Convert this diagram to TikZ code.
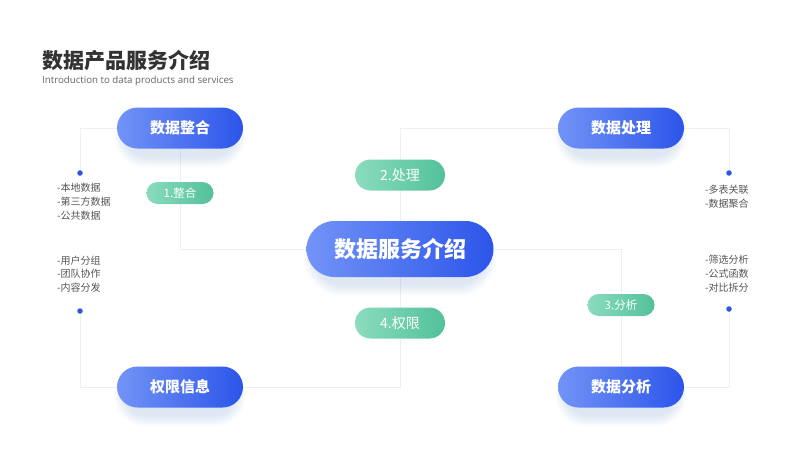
\documentclass[tikz,border=0pt]{standalone}
\usepackage{fontspec}
\setmainfont{Noto Sans CJK SC}
\newfontfamily\latinfont{Open Sans}
\usetikzlibrary{backgrounds}
\definecolor{blueA}{HTML}{7293F7}
\definecolor{blueB}{HTML}{2C55EA}
\definecolor{greenA}{HTML}{8ADCBD}
\definecolor{greenB}{HTML}{52C19A}
\definecolor{linec}{HTML}{EDEFF3}
\definecolor{dotc}{HTML}{2D55E6}
\definecolor{txtc}{HTML}{555555}
\definecolor{titlec}{HTML}{333333}
\definecolor{subc}{HTML}{666666}
\definecolor{shad}{HTML}{3F63EC}
\newcommand\mysoftshadow[4]{%
  \foreach \k in {0,...,11}{%
    \pgfmathsetmacro\rr{(#4)/2+\k}%
    \fill[shad, opacity=0.012, rounded corners=\rr pt]
      ({#1-(#3)/2-\k+8},{#2-(#4)/2-\k+10}) rectangle ({#1+(#3)/2+\k-8},{#2+(#4)/2+\k+8});
  }}
\tikzset{
  bluepill/.style={shape=rectangle, rounded corners=20.5pt, minimum width=126pt, minimum height=41pt,
    left color=blueA, right color=blueB, text=white, inner sep=0pt,
    font=\bfseries\fontsize{15}{15}\selectfont},
  centerpill/.style={bluepill, rounded corners=28pt, minimum width=187pt, minimum height=56pt,
    font=\bfseries\fontsize{22}{22}\selectfont},
  greenpill/.style={shape=rectangle, rounded corners=15.5pt, minimum width=90pt, minimum height=31pt,
    left color=greenA, right color=greenB, text=white, inner sep=0pt,
    font=\fontsize{14}{14}\selectfont},
  greensmall/.style={greenpill, rounded corners=11pt, minimum width=67pt, minimum height=22pt,
    font=\fontsize{11.5}{11.5}\selectfont},
  conn/.style={draw=linec, line width=1pt},
  dotnode/.style={circle, fill=dotc, minimum size=5.5pt, inner sep=0pt},
  listtxt/.style={anchor=west, inner sep=0pt, text=txtc, font=\fontsize{10}{10}\selectfont},
}
\begin{document}
\begin{tikzpicture}[x=1pt, y=-1pt]
\useasboundingbox (0,0) rectangle (800,450);

% title
\node[anchor=west, inner sep=0pt, text=titlec, font=\bfseries\fontsize{21}{21}\selectfont] (title) at (42,60) {数据产品服务介绍};
\node[anchor=west, inner sep=0pt, text=subc, font=\latinfont\fontsize{9.7}{9.7}\selectfont] (subtitle) at (42,81) {Introduction to data products and services};

% shadows
\mysoftshadow{180}{128}{126}{41}
\mysoftshadow{621}{128}{126}{41}
\mysoftshadow{180}{387}{126}{41}
\mysoftshadow{621}{387}{126}{41}
\mysoftshadow{400}{249}{187}{56}

% main nodes
\node[bluepill] (zh) at (180,128) {数据整合};
\node[bluepill] (cl) at (621,128) {数据处理};
\node[bluepill] (qx) at (180,387) {权限信息};
\node[bluepill] (fx) at (621,387) {数据分析};
\node[centerpill] (c) at (400,249) {数据服务介绍};

% step labels
\node[greensmall] (l1) at (180,193) {1.整合};
\node[greenpill] (l2) at (400,175) {2.处理};
\node[greensmall] (l3) at (621,305) {3.分析};
\node[greenpill] (l4) at (400,323) {4.权限};

% dots
\node[dotnode] (d1) at (80,173) {};
\node[dotnode] (d2) at (80,311) {};
\node[dotnode] (d3) at (729,173) {};
\node[dotnode] (d4) at (729,309) {};

% lists
\node[listtxt] (t11) at (57,188) {-本地数据};
\node[listtxt] (t12) at (57,202) {-第三方数据};
\node[listtxt] (t13) at (57,216) {-公共数据};
\node[listtxt] (t21) at (57,261) {-用户分组};
\node[listtxt] (t22) at (57,274) {-团队协作};
\node[listtxt] (t23) at (57,288) {-内容分发};
\node[listtxt] (t31) at (705,190) {-多表关联};
\node[listtxt] (t32) at (705,204) {-数据聚合};
\node[listtxt] (t41) at (705,260) {-筛选分析};
\node[listtxt] (t42) at (705,274) {-公式函数};
\node[listtxt] (t43) at (705,288) {-对比拆分};

% connectors
\begin{scope}[on background layer]
\fill[white] (0,0) rectangle (800,450);
\draw[conn] (zh.south) |- (c.west);
\draw[conn] (c.north) |- (cl.west);
\draw[conn] (c.east) -| (fx.north);
\draw[conn] (c.south) |- (qx.east);
\draw[conn] (zh.west) -| (d1.center);
\draw[conn] (d2.center) |- (qx.west);
\draw[conn] (cl.east) -| (d3.center);
\draw[conn] (d4.center) |- (fx.east);
\end{scope}
\end{tikzpicture}
\end{document}
